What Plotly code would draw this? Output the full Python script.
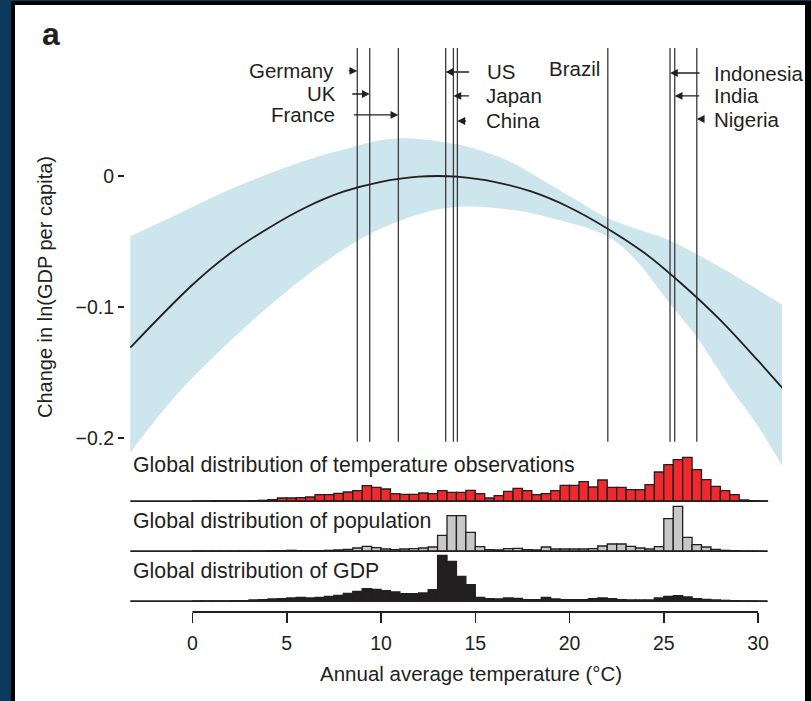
import plotly.graph_objects as go

# ---------------- data ----------------
curve_temp = [-3.3, 0, 2, 4, 6, 8, 10, 12, 13, 14, 16, 18, 20, 22, 24, 26, 28, 30, 31.3]
curve_val = [-0.131, -0.083, -0.059, -0.040, -0.024, -0.012, -0.0044, -0.0005, 0.0,
             -0.0005, -0.0044, -0.012, -0.024, -0.040, -0.059, -0.083, -0.110, -0.141, -0.162]

band_upper_temp = [-3.3, -0.9, 1.7, 5.3, 7.9, 10.6, 13.7, 15.5, 17.0, 19.0, 20.5, 22.0, 23.5, 25.3, 27.0, 29.0, 31.3]
band_upper_val = [-0.046, -0.030, -0.012, 0.0084, 0.0198, 0.0285, 0.025, 0.0186, 0.0099, -0.0069,
                  -0.0196, -0.032, -0.040, -0.049, -0.0616, -0.078, -0.0985]
band_lower_temp = [-3.3, -0.9, 1.7, 5.3, 8.8, 11.4, 13.9, 17.0, 19.0, 22.0, 23.5, 25.3, 26.75, 28.5, 30.0, 31.3]
band_lower_val = [-0.211, -0.168, -0.130, -0.0845, -0.049, -0.032, -0.0237, -0.026, -0.032, -0.046,
                  -0.064, -0.097, -0.123, -0.161, -0.191, -0.222]

countries = ["Germany", "UK", "France", "US", "Japan", "China", "Brazil", "Indonesia", "India", "Nigeria"]
country_temp = [8.74, 9.40, 10.92, 13.43, 13.84, 14.05, 22.03, 25.33, 25.58, 26.75]

hist_bin_left = [0.0, 0.5, 1.0, 1.5, 2.0, 2.5, 3.0, 3.5, 4.0, 4.5, 5.0, 5.5, 6.0, 6.5, 7.0, 7.5,
                 8.0, 8.5, 9.0, 9.5, 10.0, 10.5, 11.0, 11.5, 12.0, 12.5, 13.0, 13.5, 14.0, 14.5,
                 15.0, 15.5, 16.0, 16.5, 17.0, 17.5, 18.0, 18.5, 19.0, 19.5, 20.0, 20.5, 21.0,
                 21.5, 22.0, 22.5, 23.0, 23.5, 24.0, 24.5, 25.0, 25.5, 26.0, 26.5, 27.0, 27.5,
                 28.0, 28.5, 29.0, 29.5, 30.0]
temp_obs = [1, 1, 2, 2, 2, 1, 2, 3, 5, 10, 10, 11, 13, 20, 20, 24,
            28, 32, 47, 42, 37, 23, 21, 21, 25, 23, 32, 27, 27, 33,
            23, 10, 17, 30, 39, 32, 20, 23, 32, 48, 48, 59, 43,
            64, 42, 42, 35, 35, 50, 88, 110, 125, 132, 95, 65, 45,
            32, 20, 4, 2, 1]
population = [1, 1, 1, 1, 1, 1, 1, 1, 2, 2, 3, 2, 2, 2, 3, 4,
              6, 10, 15, 11, 7, 5, 7, 8, 10, 13, 48, 107, 107, 57,
              14, 5, 4, 8, 9, 5, 4, 13, 7, 7, 7, 7, 8,
              16, 22, 22, 15, 10, 7, 14, 98, 135, 42, 20, 13, 6,
              3, 2, 1, 1, 0]
gdp = [1, 1, 1, 1, 2, 2, 4, 5, 7, 8, 10, 12, 10, 12, 15, 18,
       24, 30, 38, 36, 32, 28, 23, 23, 25, 35, 138, 120, 75, 50,
       12, 8, 7, 10, 9, 5, 5, 12, 7, 5, 5, 5, 8,
       10, 8, 5, 4, 4, 4, 10, 15, 17, 13, 8, 6, 4,
       3, 2, 1, 1, 0]

x_tick_vals = [0, 5, 10, 15, 20, 25, 30]
y_tick_vals = [-0.2, -0.1, 0]
y_tick_text = ["\u22120.2", "\u22120.1", "0"]

# ---------------- layout helpers ----------------
W, H = 811, 701
ML, MR, MT, MB = 124, 29, 40, 89
PW = W - ML - MR
PH = H - MT - MB


def px_x(p):
    return (p - ML) / PW


def px_y(p):
    return (H - MB - p) / PH


FONT = "Liberation Sans, Arial, Helvetica, sans-serif"
INK = "#231f20"
LBL = 20.5
HLBL = 21.3

fig = go.Figure()

# confidence band
fig.add_trace(go.Scatter(x=band_lower_temp, y=band_lower_val, mode="lines",
                         line=dict(width=0, shape="spline", color="#cde6ed"),
                         hoverinfo="skip", showlegend=False, xaxis="x", yaxis="y"))
fig.add_trace(go.Scatter(x=band_upper_temp, y=band_upper_val, mode="lines", fill="tonexty",
                         fillcolor="#cde6ed",
                         line=dict(width=0, shape="spline", color="#cde6ed"),
                         hoverinfo="skip", showlegend=False, xaxis="x", yaxis="y"))

# country lines
LINE_TOP, LINE_BOTTOM = 0.0977, -0.2028
for name, t in zip(countries, country_temp):
    fig.add_trace(go.Scatter(x=[t, t], y=[LINE_BOTTOM, LINE_TOP], mode="lines",
                             line=dict(color="#3a3a3a", width=1.3),
                             hoverinfo="skip", showlegend=False, xaxis="x", yaxis="y"))

# response curve
fig.add_trace(go.Scatter(x=curve_temp, y=curve_val, mode="lines",
                         line=dict(color=INK, width=1.8, shape="spline"),
                         hoverinfo="skip", showlegend=False, xaxis="x", yaxis="y"))

# histograms
for vals, axis, fill in [(temp_obs, "y2", "#ee2a2f"), (population, "y3", "#c8c8c8"), (gdp, "y4", "#231f20")]:
    fig.add_trace(go.Bar(x=hist_bin_left, y=vals, width=0.5, offset=0,
                         marker=dict(color=fill, line=dict(color=INK, width=1.3)),
                         hoverinfo="skip", showlegend=False, xaxis="x", yaxis=axis))

# ---------------- annotations ----------------
ann = []
# label config: (y, text xshift px, anchor, arrow ax px or None)
label_cfg = {
    "Germany": (0.0802, -21, "right", -10),
    "UK": (0.0626, -32, "right", -19),
    "France": (0.0466, -61, "right", -46),
    "US": (0.0794, 39, "left", 25),
    "Japan": (0.0611, 31, "left", 17),
    "China": (0.0420, 27, "left", 10),
    "Brazil": (0.0817, -6, "right", None),
    "Indonesia": (0.0786, 42, "left", 31),
    "India": (0.0611, 37, "left", 26),
    "Nigeria": (0.0435, 15, "left", 8),
}
for name, t in zip(countries, country_temp):
    ly, xs, anc, ax = label_cfg[name]
    ann.append(dict(x=t, y=ly, xref="x", yref="y", text=name, showarrow=False,
                    xanchor=anc, yanchor="middle", xshift=xs,
                    font=dict(family=FONT, size=LBL, color=INK)))
    if ax is not None:
        ann.append(dict(x=t, y=ly, xref="x", yref="y", text="", showarrow=True,
                        ax=ax, ay=0, arrowhead=2, arrowsize=1.2, arrowwidth=1.3,
                        arrowcolor=INK, standoff=0, startstandoff=0))

for txt, yy in [("Global distribution of temperature observations", 465),
                ("Global distribution of population", 521),
                ("Global distribution of GDP", 571)]:
    ann.append(dict(x=px_x(131), y=px_y(yy), xref="paper", yref="paper", text=txt,
                    showarrow=False, xanchor="left", yanchor="middle",
                    font=dict(family=FONT, size=HLBL, color=INK)))

ann.append(dict(x=px_x(45), y=px_y(287), xref="paper", yref="paper",
                text="Change in ln(GDP per capita)", textangle=-90, showarrow=False,
                xanchor="center", yanchor="middle", font=dict(family=FONT, size=20, color=INK)))
ann.append(dict(x=px_x(471), y=px_y(673), xref="paper", yref="paper",
                text="Annual average temperature (\u00b0C)", showarrow=False,
                xanchor="center", yanchor="middle", font=dict(family=FONT, size=20.5, color=INK)))
ann.append(dict(x=px_x(51), y=px_y(34), xref="paper", yref="paper",
                text="<b>a</b>", showarrow=False,
                xanchor="center", yanchor="middle", font=dict(family=FONT, size=32, color=INK)))

# ---------------- shapes ----------------
shapes = [
    dict(type="rect", xref="paper", yref="paper", x0=px_x(11), x1=px_x(812),
         y0=px_y(702), y1=px_y(1), fillcolor="#000000", line=dict(width=0), layer="below"),
    dict(type="rect", xref="paper", yref="paper", x0=px_x(15), x1=px_x(805),
         y0=px_y(702), y1=px_y(5), fillcolor="#ffffff", line=dict(width=0), layer="below"),
    # x axis line from first to last tick
    dict(type="line", xref="x", yref="paper", x0=x_tick_vals[0], x1=x_tick_vals[-1],
         y0=0, y1=0, line=dict(color=INK, width=2)),
]
for axis in ["y2", "y3", "y4"]:
    shapes.append(dict(type="line", xref="x", yref=axis, x0=-3.3, x1=30.5, y0=0, y1=0,
                       line=dict(color=INK, width=2.2)))

fig.update_layout(
    width=W, height=H,
    margin=dict(l=ML, r=MR, t=MT, b=MB, pad=0),
    paper_bgcolor="#0c3a5c",
    plot_bgcolor="rgba(0,0,0,0)",
    barmode="overlay",
    showlegend=False,
    font=dict(family=FONT, color=INK),
    xaxis=dict(domain=[px_x(130), 1], range=[-3.316, 31.27], anchor="free", position=0,
               showline=False, showgrid=False, zeroline=False,
               tickmode="array", tickvals=x_tick_vals, ticks="outside", ticklen=10,
               tickwidth=1.5, tickcolor=INK, ticklabelstandoff=4,
               tickfont=dict(family=FONT, size=19.5, color=INK)),
    yaxis=dict(domain=[px_y(470), px_y(48)], range=[-0.2244, 0.0977], anchor="free", position=0,
               showline=False, showgrid=False, zeroline=False,
               tickmode="array", tickvals=y_tick_vals, ticktext=y_tick_text,
               ticks="outside", ticklen=6, tickwidth=1.5, tickcolor=INK,
               tickfont=dict(family=FONT, size=19.5, color=INK)),
    yaxis2=dict(domain=[px_y(502), px_y(452)], range=[-2, 148], visible=False, anchor="x"),
    yaxis3=dict(domain=[px_y(552), px_y(502)], range=[-2, 148], visible=False, anchor="x"),
    yaxis4=dict(domain=[px_y(602), px_y(552)], range=[-2, 148], visible=False, anchor="x"),
    annotations=ann,
    shapes=shapes,
)

fig.write_html("out.html",
               config={"displayModeBar": False, "staticPlot": True},
               post_script="document.body.style.margin='0px';"
                           "document.body.style.background='#0c3a5c';"
                           "document.body.style.overflow='hidden';")
